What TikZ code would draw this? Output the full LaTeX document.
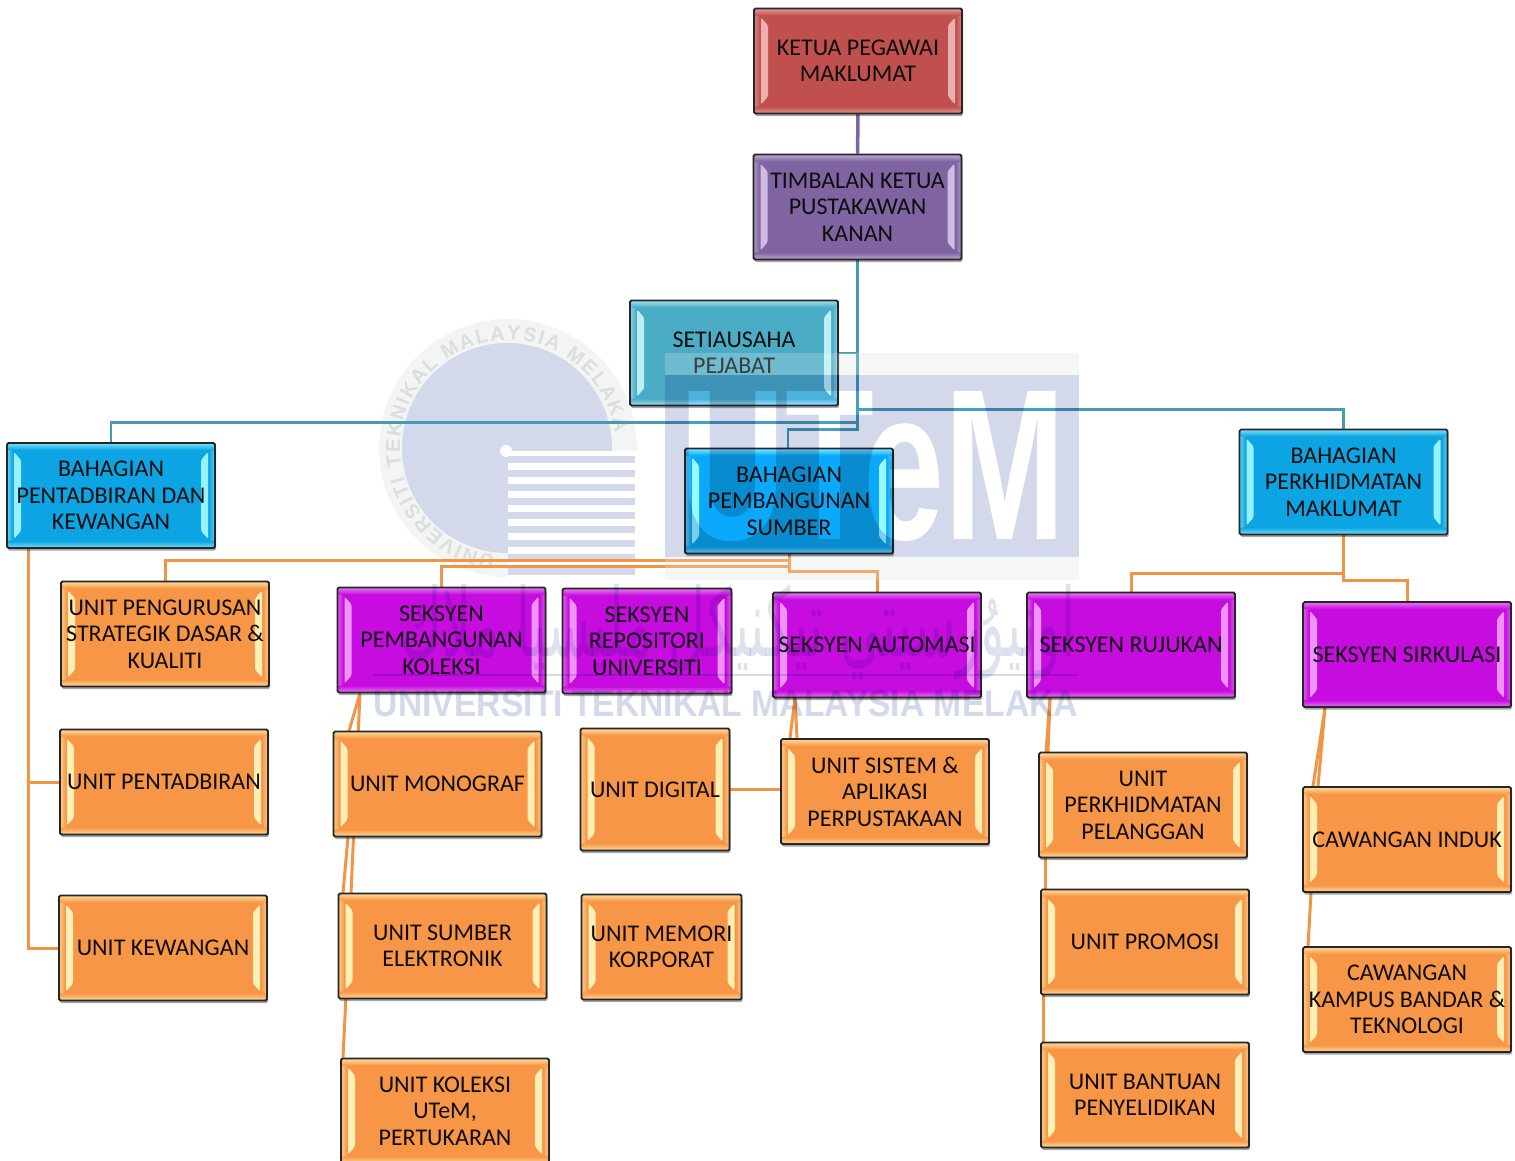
\documentclass[tikz,border=0pt]{standalone}
\usepackage{fontspec}
\setmainfont{Carlito}
\newfontfamily\markfont{Liberation Sans}
\newfontfamily\jawifont[Script=Arabic]{DejaVu Sans}
\TeXXeTstate=1
\usetikzlibrary{calc,shadows,backgrounds,decorations.text}
\definecolor{boxred}{HTML}{C0504D}
\definecolor{stripred}{HTML}{EBB0AE}
\definecolor{boxviolet}{HTML}{8064A2}
\definecolor{stripviolet}{HTML}{CDBBE2}
\definecolor{boxteal}{HTML}{4BACC6}
\definecolor{stripteal}{HTML}{BDEEF5}
\definecolor{boxblue}{HTML}{0CA4E2}
\definecolor{stripblue}{HTML}{96F2FF}
\definecolor{boxpurple}{HTML}{C60CDE}
\definecolor{strippurple}{HTML}{EE94F8}
\definecolor{boxorange}{HTML}{F79646}
\definecolor{striporange}{HTML}{FFEFB4}
\definecolor{markblue}{HTML}{D3D9EA}
\definecolor{markpale}{HTML}{F3F5F5}
\definecolor{ringgrey}{HTML}{DCDDDD}
\tikzset{
  bevelbox/.style 2 args={draw=black!85, line width=1.8pt, rounded corners=1.5pt, fill=#1,
    drop shadow={shadow xshift=1pt, shadow yshift=-2.5pt, opacity=.35, fill=black},
    minimum width=208pt, minimum height=105pt, inner sep=0pt, align=center,
    font=\fontsize{24}{26.5}\selectfont, text=black!95,
    path picture={
      \coordinate (nw) at (path picture bounding box.north west);
      \coordinate (ne) at (path picture bounding box.north east);
      \coordinate (sw) at (path picture bounding box.south west);
      \coordinate (se) at (path picture bounding box.south east);
      \shade[left color=#2!60!#1, right color=#1] (nw) rectangle ($(sw)+(6,0)$);
      \shade[left color=#1, right color=#2!60!#1] ($(ne)+(-6,0)$) rectangle (se);
      \shade[top color=#2!80!#1, bottom color=#1] (nw) rectangle ($(ne)+(0,7)$);
      \shade[top color=#1, bottom color=#2!80!#1] ($(sw)+(0,-7)$) rectangle (se);
      \fill[#2] ($(nw)+(7,9)$) -- ($(nw)+(14,17)$) -- ($(sw)+(14,-17)$) -- ($(sw)+(7,-9)$) -- cycle;
      \fill[#2] ($(ne)+(-7,9)$) -- ($(ne)+(-14,17)$) -- ($(se)+(-14,-17)$) -- ($(se)+(-7,-9)$) -- cycle;
    }},
  redbox/.style={bevelbox={boxred}{stripred}},
  violetbox/.style={bevelbox={boxviolet}{stripviolet}},
  tealbox/.style={bevelbox={boxteal}{stripteal}},
  bluebox/.style={bevelbox={boxblue}{stripblue}},
  purplebox/.style={bevelbox={boxpurple}{strippurple}},
  orangebox/.style={bevelbox={boxorange}{striporange}},
  link/.style={line width=3pt},
  tealink/.style={link, line width=2.6pt, draw=boxteal!90!black},
  orangelink/.style={link, draw=boxorange!90!brown}
}
\begin{document}
\begin{tikzpicture}[x=1pt,y=-1pt]
  \useasboundingbox (0,0) rectangle (1515,1160);
  \node[redbox] (ketua) at (858,61) {KETUA PEGAWAI\\MAKLUMAT};
  \node[violetbox] (timbalan) at (857.5,207) {TIMBALAN KETUA\\PUSTAKAWAN\\KANAN};
  \node[tealbox] (setiausaha) at (734,353) {SETIAUSAHA\\PEJABAT};
  \node[bluebox] (pentadbiran) at (111,495.5) {BAHAGIAN\\PENTADBIRAN DAN\\KEWANGAN};
  \node[bluebox] (pembangunan) at (789,501) {BAHAGIAN\\PEMBANGUNAN\\SUMBER};
  \node[bluebox] (perkhidmatan) at (1343.5,482) {BAHAGIAN\\PERKHIDMATAN\\MAKLUMAT};

  \node[orangebox] (pengurusan) at (165,634) {UNIT PENGURUSAN\\STRATEGIK DASAR \&\\KUALITI};
  \node[orangebox] (unitpentadbiran) at (164,782) {UNIT PENTADBIRAN};
  \node[orangebox] (kewangan) at (163,948) {UNIT KEWANGAN};

  \node[purplebox] (koleksi) at (441.5,640) {SEKSYEN\\PEMBANGUNAN\\KOLEKSI};
  \node[purplebox, minimum width=169pt] (repositori) at (647,641) {SEKSYEN\\REPOSITORI\\UNIVERSITI};
  \node[purplebox] (automasi) at (877,645) {SEKSYEN AUTOMASI};
  \node[purplebox] (rujukan) at (1131,645) {SEKSYEN RUJUKAN};
  \node[purplebox] (sirkulasi) at (1407,654.5) {SEKSYEN SIRKULASI};

  \node[orangebox] (monograf) at (437.5,784) {UNIT MONOGRAF};
  \node[orangebox] (elektronik) at (442.5,946) {UNIT SUMBER\\ELEKTRONIK};
  \node[orangebox] (unitkoleksi) at (445,1111) {UNIT KOLEKSI\\UTeM,\\PERTUKARAN};
  \node[orangebox, minimum width=149pt, minimum height=122pt] (digital) at (655,789.5) {UNIT DIGITAL};
  \node[orangebox, minimum width=160pt] (memori) at (661.5,947) {UNIT MEMORI\\KORPORAT};
  \node[orangebox] (sistem) at (885,791.5) {UNIT SISTEM \&\\APLIKASI\\PERPUSTAKAAN};
  \node[orangebox] (pelanggan) at (1143,805) {UNIT\\PERKHIDMATAN\\PELANGGAN};
  \node[orangebox] (promosi) at (1145,942) {UNIT PROMOSI};
  \node[orangebox] (bantuan) at (1145,1095) {UNIT BANTUAN\\PENYELIDIKAN};
  \node[orangebox] (induk) at (1407,839.5) {CAWANGAN INDUK};
  \node[orangebox] (kampus) at (1407,999.5) {CAWANGAN\\KAMPUS BANDAR \&\\TEKNOLOGI};

  \begin{pgfonlayer}{background}
  % round logo
  \fill[markpale] (508,448) circle[radius=129pt];
  \fill[markblue] (507,448) circle[radius=105pt];
  \path[decorate, decoration={text along path, text align={fit to path},
    text={|\markfont\bfseries\fontsize{20}{20}\selectfont\color{ringgrey}|UNIVERSITI TEKNIKAL MALAYSIA MELAKA}}]
    (508,448) ++(263:108pt) arc[start angle=263, end angle=8, radius=108pt];
  \fill[white] (508,451) rectangle (640,580);
  \fill[white] (506,451) circle[radius=6pt];
  \foreach \ypos in {456,470,484,498,512,526,540,554,568}
    \fill[markblue] (508,\ypos) rectangle (635,\ypos+7);
  \fill[markpale] (665,353) rectangle (1079,375);
  \fill[markpale] (665,557) rectangle (1079,580);

  % connectors
  \draw[link, draw=boxviolet, line width=3.5pt] (ketua) -- (timbalan);
  \draw[tealink] (setiausaha.east |- 0,353) -- (timbalan.south |- 0,353);
  \draw[tealink] (timbalan.south) -- ++(0,162) -| (pentadbiran.north);
  \draw[tealink] (timbalan.south) -- ++(0,149) -| (perkhidmatan.north);
  \draw[tealink] (timbalan.south) -- ++(0,169) -| ([xshift=-1pt]pembangunan.north);
  \draw[orangelink] (pembangunan.south) -- ++(0,6) -| (pengurusan.north);
  \draw[orangelink] (pembangunan.south) -- ++(0,12) -| (koleksi.north);
  \draw[orangelink] (pembangunan.south) -- ++(0,17) -| (automasi.north);
  \draw[orangelink] ([xshift=-83pt]pentadbiran.south) |- (unitpentadbiran.west);
  \draw[orangelink] ([xshift=-83pt]pentadbiran.south) |- (kewangan.west);
  \draw[orangelink] ([xshift=-81.5pt]koleksi.south) -- (351,893) -- (unitkoleksi.north -| 343,0);
  \draw[orangelink] ([xshift=-81.5pt]koleksi.south) -- (349,731) -- (348,837) -- (343,893);
  \draw[orangelink] ([xshift=-82pt]automasi.south) -- (790,738);
  \draw[orangelink] ([xshift=-82pt]automasi.south) -- (797,738);
  \draw[orangelink] (digital.east) -- (sistem.west |- digital.east);
  \draw[orangelink] ([xshift=-81pt]rujukan.south) -- (1046,752);
  \draw[orangelink] ([xshift=-81pt]rujukan.south) -- (1048,752);
  \draw[orangelink] (1045,858) -- (1045,889);
  \draw[orangelink] (1043,995) -- (1043,1042);
  \draw[orangelink] (perkhidmatan.south) -- ++(0,38) -| (rujukan.north);
  \draw[orangelink] (perkhidmatan.south) -- ++(0,45) -| (sirkulasi.north);
  \draw[orangelink] ([xshift=-82pt]sirkulasi.south) -- (1313,786);
  \draw[orangelink] ([xshift=-82pt]sirkulasi.south) -- (1318,786);
  \draw[orangelink] (1311,893) -- (1308,946);
  \end{pgfonlayer}

  % watermark over the boxes
  \fill[white, opacity=.2] (665,353) rectangle (1079,375);
  \fill[white, opacity=.2] (665,557) rectangle (1079,580);
  \begin{scope}[blend mode=multiply]
    \fill[markblue] (665,375) rectangle (1079,557);
    \node[text=markblue!75!white, inner sep=0pt] (jawi) at (738,632)
      {\resizebox{675pt}{72pt}{\jawifont\beginR اونيۇرسيتي تيكنيكل مليسيا ملاك\endR}};
    \draw[markblue, line width=1.5pt] (373,675) -- (1078,675);
    \node[text=markblue, inner sep=0pt] (namamark) at (726,704)
      {\resizebox{704pt}{26pt}{\markfont\bfseries UNIVERSITI TEKNIKAL MALAYSIA MELAKA}};
  \end{scope}
  \begin{scope}[blend mode=color dodge]
    \node[text=black!82, inner sep=0pt] (utem) at (873,466)
      {\resizebox{385pt}{148pt}{\markfont\bfseries UTeM}};
  \end{scope}
\end{tikzpicture}
\end{document}
